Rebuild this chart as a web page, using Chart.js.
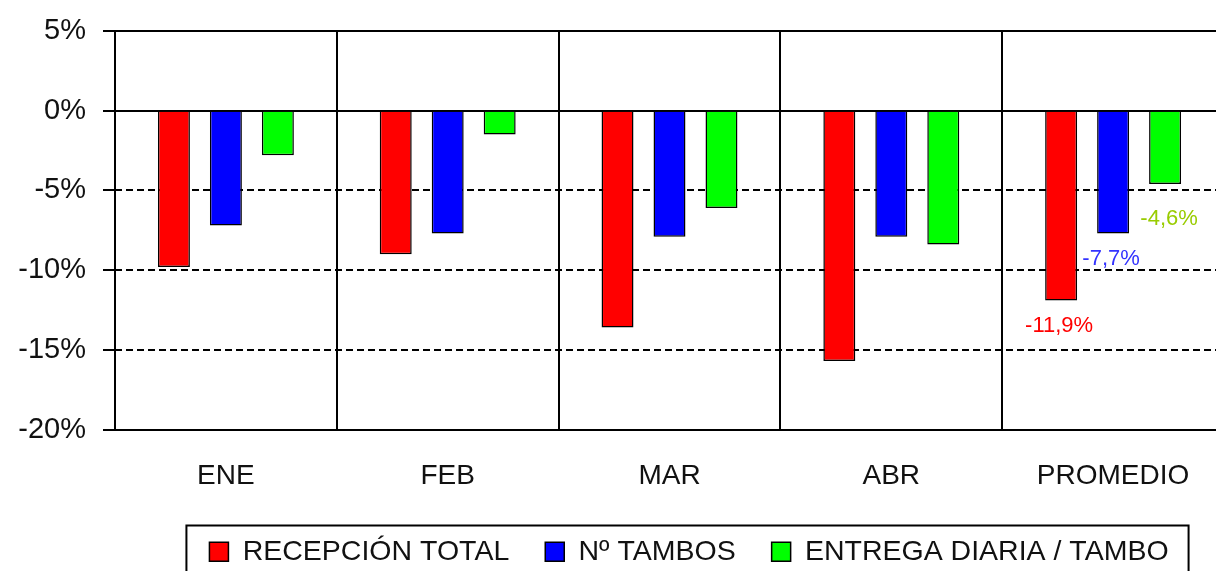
<!DOCTYPE html>
<html>
<head>
<meta charset="utf-8">
<script src="https://cdn.jsdelivr.net/npm/chart.js@4.4.0/dist/chart.umd.min.js"></script>
<style>
  html, body { margin: 0; padding: 0; background: #fff; overflow: hidden; }
  #wrap { width: 1226px; height: 571px; }
</style>
</head>
<body>
<div id="wrap"><canvas id="chart"></canvas></div>
<script>
// data
const categories = ["ENE", "FEB", "MAR", "ABR", "PROMEDIO"];
const recepcionTotal = [-9.8, -9.0, -13.6, -15.7, -11.9];
const numTambos = [-7.2, -7.7, -7.9, -7.9, -7.7];
const entregaDiaria = [-2.8, -1.5, -6.1, -8.4, -4.6];
const yTicks = [5, 0, -5, -10, -15, -20];
const dashedTicks = [-5, -10, -15];
const seriesNames = ["RECEPCIÓN TOTAL", "Nº TAMBOS", "ENTREGA DIARIA / TAMBO"];
const labelColors = ["#ff0000", "#3333ff", "#99cc00"];

const FONT = "'Liberation Sans', Arial, sans-serif";

// dashed grid lines at -5, -10, -15 (behind the bars)
const dashedGrid = {
  id: "dashedGrid",
  beforeDatasetsDraw(chart) {
    const ctx = chart.ctx;
    const y = chart.scales.y;
    const area = chart.chartArea;
    ctx.save();
    ctx.strokeStyle = "#000";
    ctx.lineWidth = 2;
    ctx.setLineDash([7, 4]);
    dashedTicks.forEach(v => {
      const py = Math.round(y.getPixelForValue(v));
      ctx.beginPath();
      ctx.moveTo(area.left, py);
      ctx.lineTo(area.right, py);
      ctx.stroke();
    });
    ctx.restore();
  }
};

// value labels under the PROMEDIO bars
const valueLabels = {
  id: "valueLabels",
  afterDatasetsDraw(chart) {
    const ctx = chart.ctx;
    const idx = categories.length - 1;
    const offsets = [26, 25, 35];
    const dx = [-2, -2, 4];
    ctx.save();
    ctx.font = "22px " + FONT;
    ctx.textAlign = "center";
    ctx.textBaseline = "middle";
    chart.data.datasets.forEach((ds, i) => {
      const bar = chart.getDatasetMeta(i).data[idx];
      const v = ds.data[idx];
      ctx.fillStyle = labelColors[i];
      ctx.fillText(v.toFixed(1).replace(".", ",") + "%", bar.x + dx[i], bar.y + offsets[i]);
    });
    ctx.restore();
  }
};

// move the legend and draw its frame
const legendFrame = {
  id: "legendFrame",
  afterLayout(chart) {
    const lg = chart.legend;
    const shift = 689 - (lg.left + lg.right) / 2;
    lg.left += shift;
    lg.right += shift;
    lg.top += 5;
    lg.bottom += 5;
  },
  afterDraw(chart) {
    const lg = chart.legend;
    const hb = lg.legendHitBoxes;
    if (!hb || !hb.length) return;
    const ctx = chart.ctx;
    const left = hb[0].left - 23;
    const right = hb[hb.length - 1].left + hb[hb.length - 1].width + 20;
    const top = hb[0].top - 12;
    ctx.save();
    ctx.strokeStyle = "#000";
    ctx.lineWidth = 2;
    ctx.strokeRect(left, top, right - left, chart.height - top + 10);
    ctx.restore();
  }
};

new Chart(document.getElementById("chart"), {
  type: "bar",
  data: {
    labels: categories,
    datasets: [
      { label: seriesNames[0], data: recepcionTotal, backgroundColor: "#ff0000", borderColor: "#000", borderWidth: 1.5 },
      { label: seriesNames[1], data: numTambos, backgroundColor: "#0000ff", borderColor: "#000", borderWidth: 1.5 },
      { label: seriesNames[2], data: entregaDiaria, backgroundColor: "#00ff00", borderColor: "#000", borderWidth: 1.5 },
    ],
  },
  plugins: [dashedGrid, valueLabels, legendFrame],
  options: {
    responsive: true,
    maintainAspectRatio: false,
    animation: false,
    categoryPercentage: 0.703,
    barPercentage: 0.615,
    layout: { padding: { top: 31, right: 2, left: 0, bottom: 0 } },
    plugins: {
      tooltip: { enabled: false },
      legend: {
        position: "bottom",
        labels: {
          font: { family: FONT, size: 28.5 },
          color: "#111",
          boxWidth: 19,
          boxHeight: 19,
          padding: 36,
        },
      },
    },
    scales: {
      x: {
        grid: { color: "#000", lineWidth: 2, drawTicks: false, offset: true },
        border: { color: "#000", width: 2 },
        ticks: { font: { family: FONT, size: 28 }, color: "#111", padding: 30 },
        afterFit(scale) { scale.height = 67; },
      },
      y: {
        min: yTicks[yTicks.length - 1],
        max: yTicks[0],
        afterBuildTicks(scale) { scale.ticks = yTicks.map(v => ({ value: v })); },
        grid: {
          color: ctx => dashedTicks.includes(ctx.tick && ctx.tick.value) ? "rgba(0,0,0,0)" : "#000",
          tickColor: "#000",
          lineWidth: 2,
          tickLength: 12,
        },
        border: { color: "#000", width: 2 },
        ticks: {
          font: { family: FONT, size: 29 },
          color: "#111",
          padding: 17,
          callback: v => v + "%",
        },
        afterFit(scale) {
          scale.width = 115;
          scale.paddingTop = 0;
          scale.paddingBottom = 0;
        },
      },
    },
  },
});
</script>
</body>
</html>
